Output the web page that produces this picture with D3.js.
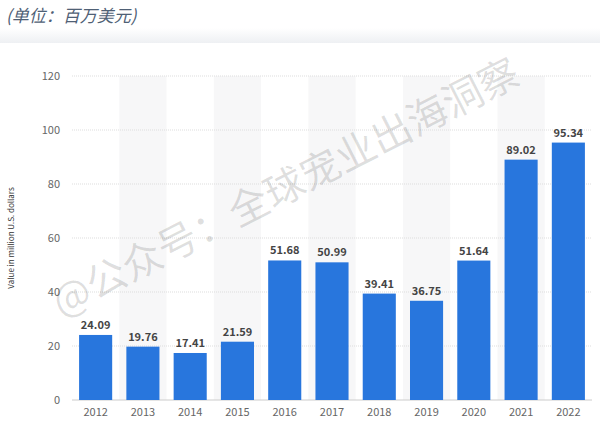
<!DOCTYPE html>
<html><head><meta charset="utf-8">
<script src="https://cdn.jsdelivr.net/npm/d3@7"></script>
<style>body{margin:0;background:#fff;font-family:"Noto Sans CJK SC","Open Sans",sans-serif}</style>
</head><body><svg id="c" width="600" height="424"></svg>
<script>
var years = ["2012","2013","2014","2015","2016","2017","2018","2019","2020","2021","2022"];
var values = [24.09,19.76,17.41,21.59,51.68,50.99,39.41,36.75,51.64,89.02,95.34];
var yTicks = [0,20,40,60,80,100,120];

var svg = d3.select("#c");
var defs = svg.append("defs");
var g1 = defs.append("linearGradient").attr("id","hd").attr("x1",0).attr("y1",0).attr("x2",0).attr("y2",1);
g1.append("stop").attr("offset","0").attr("stop-color","#fff");
g1.append("stop").attr("offset","1").attr("stop-color","#eef0f3");
svg.append("rect").attr("x",0).attr("y",28).attr("width",600).attr("height",15).attr("fill","url(#hd)");

svg.append("text").attr("x",6).attr("y",22).attr("font-size",17).attr("font-style","italic")
	.attr("fill","#4f6075").text("(单位：百万美元)");

var x = d3.scaleBand().domain(years).range([72,592]).paddingInner(0.3).paddingOuter(0.15);
var y = d3.scaleLinear().domain([0,120]).range([400,76]);

//alternating bands
var step = x.step();
svg.selectAll(".band").data(years.filter(function(d,i){return i%2==1;})).enter().append("rect")
	.attr("x",function(d){return x(d)+x.bandwidth()/2-step/2;}).attr("y",y(120))
	.attr("width",step).attr("height",y(0)-y(120)).attr("fill","#f7f7f8");

svg.selectAll(".grid").data(yTicks).enter().append("line")
	.attr("x1",72).attr("x2",592).attr("y1",function(d){return y(d);}).attr("y2",function(d){return y(d);})
	.attr("stroke",function(d){return d==0?"#ccc":"#ddd";}).attr("stroke-dasharray",function(d){return d==0?null:"1,1";});

svg.selectAll(".yl").data(yTicks).enter().append("text")
	.attr("x",60).attr("y",function(d){return y(d)+4;}).attr("text-anchor","end")
	.attr("font-size",11).attr("fill","#666").text(function(d){return d;});

svg.append("text").attr("transform","translate(14,238) rotate(-90)").attr("text-anchor","middle")
	.attr("font-size",8).attr("fill","#333").text("Value in million U.S. dollars");

svg.selectAll(".bar").data(values).enter().append("rect")
	.attr("x",function(d,i){return x(years[i]);}).attr("y",function(d){return y(d);})
	.attr("width",x.bandwidth()).attr("height",function(d){return y(0)-y(d);}).attr("fill","#2876dd");

svg.selectAll(".vl").data(values).enter().append("text")
	.attr("x",function(d,i){return x(years[i])+x.bandwidth()/2;}).attr("y",function(d){return y(d)-6;})
	.attr("text-anchor","middle").attr("font-size",11).attr("font-weight","600").attr("fill","#444")
	.text(function(d){return d.toFixed(2);});

svg.selectAll(".xl").data(years).enter().append("text")
	.attr("x",function(d){return x(d)+x.bandwidth()/2;}).attr("y",416)
	.attr("text-anchor","middle").attr("font-size",11).attr("fill","#666").text(function(d){return d;});

svg.append("text").attr("transform","translate(292,200) rotate(-27)").attr("text-anchor","middle")
	.attr("font-size",40).attr("fill","#000").attr("fill-opacity",0.13).text("@公众号：全球宠业出海洞察");
</script></body></html>
